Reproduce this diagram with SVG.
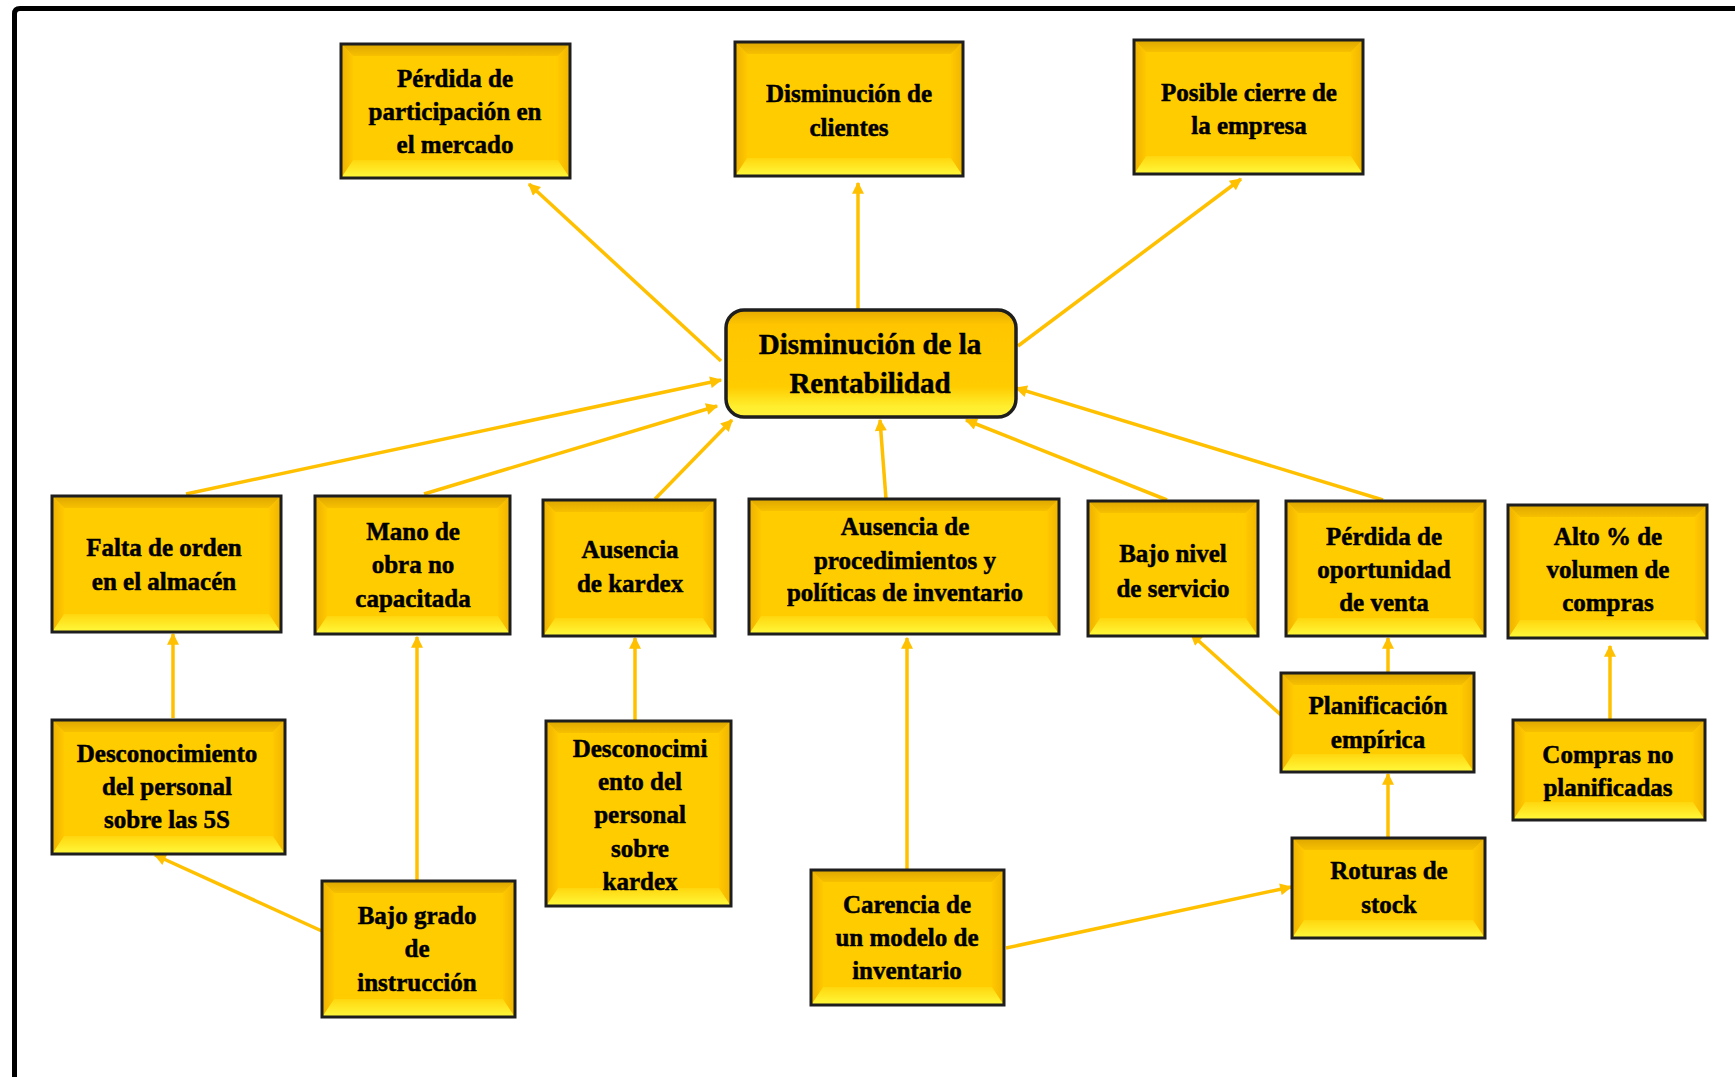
<svg xmlns="http://www.w3.org/2000/svg" width="1735" height="1077" viewBox="0 0 1735 1077">
<defs>
<linearGradient id="gT" x1="0" y1="0" x2="0" y2="1"><stop offset="0" stop-color="#DDA600"/><stop offset="1" stop-color="#F7C000"/></linearGradient>
<linearGradient id="gB" x1="0" y1="0" x2="0" y2="1"><stop offset="0" stop-color="#FFD60E"/><stop offset="1" stop-color="#FFFA3C"/></linearGradient>
<linearGradient id="gL" x1="0" y1="0" x2="1" y2="0"><stop offset="0" stop-color="#EDB000"/><stop offset="1" stop-color="#FFC800"/></linearGradient>
<linearGradient id="gR" x1="0" y1="0" x2="1" y2="0"><stop offset="0" stop-color="#FFC800"/><stop offset="1" stop-color="#F0B400"/></linearGradient>
<linearGradient id="gC" x1="0" y1="0" x2="0" y2="1"><stop offset="0" stop-color="#E6AA00"/><stop offset="0.14" stop-color="#FFC600"/><stop offset="0.72" stop-color="#FFCC00"/><stop offset="0.9" stop-color="#FFEE2E"/><stop offset="1" stop-color="#FFF23C"/></linearGradient>
<marker id="ar" viewBox="0 0 10 10" refX="9" refY="5" markerWidth="14" markerHeight="12" markerUnits="userSpaceOnUse" orient="auto"><path d="M0 0L10 5L0 10z" fill="#FFC000"/></marker>
</defs>
<style>
.base{fill:#FFCC00}
.t{fill:url(#gT)}
.b{fill:url(#gB)}
.l{fill:url(#gL)}
.r{fill:url(#gR)}
.bd{fill:none;stroke:#1E1E1E;stroke-width:3}
text{stroke:#000;stroke-width:0.5}
.big{font-size:29px}
.cn line{stroke:#FFC000;stroke-width:3.5;marker-end:url(#ar)}
</style>
<rect width="1735" height="1077" fill="#FFFFFF"/>
<path d="M14.5 1080V14Q14.5 8.5 20 8.5H1740" fill="none" stroke="#000" stroke-width="5"/>

<g class="cn" id="connectors">
<line x1="721" y1="361" x2="529" y2="184"/>
<line x1="858" y1="310" x2="858" y2="183"/>
<line x1="1018" y1="346" x2="1241" y2="179"/>
<line x1="186" y1="494" x2="721" y2="380"/>
<line x1="424" y1="494" x2="717" y2="406"/>
<line x1="655" y1="499" x2="732" y2="420"/>
<line x1="886" y1="499" x2="880" y2="420"/>
<line x1="1167" y1="500" x2="966" y2="420"/>
<line x1="1383" y1="500" x2="1016" y2="388"/>
<line x1="173" y1="718" x2="173" y2="634"/>
<line x1="417" y1="880" x2="417" y2="637"/>
<line x1="635" y1="721" x2="635" y2="638"/>
<line x1="907" y1="869" x2="907" y2="638"/>
<line x1="1292" y1="725" x2="1191" y2="634"/>
<line x1="1388" y1="672" x2="1388" y2="638"/>
<line x1="1388" y1="837" x2="1388" y2="774"/>
<line x1="1610" y1="719" x2="1610" y2="646"/>
<line x1="324" y1="932" x2="155" y2="855"/>
<line x1="1006" y1="948" x2="1291" y2="887"/>
</g>

<g font-family="Liberation Serif, DejaVu Serif, serif" font-weight="bold" font-size="25" text-anchor="middle" fill="#000">
<g id="n1">
<rect class="base" x="341" y="44" width="229" height="134"/>
<path class="t" d="M341 44h229l-12 12h-205z"/><path class="b" d="M341 178h229l-12-18h-205z"/><path class="l" d="M341 44l12 12v104l-12 18z"/><path class="r" d="M570 44l-12 12v104l12 18z"/>
<rect class="bd" x="341" y="44" width="229" height="134"/>
<text x="455" y="87">Pérdida de</text><text x="455" y="120">participación en</text><text x="455" y="153">el mercado</text>
</g>
<g id="n2">
<rect class="base" x="735" y="42" width="228" height="134"/>
<path class="t" d="M735 42h228l-12 12h-204z"/><path class="b" d="M735 176h228l-12-18h-204z"/><path class="l" d="M735 42l12 12v104l-12 18z"/><path class="r" d="M963 42l-12 12v104l12 18z"/>
<rect class="bd" x="735" y="42" width="228" height="134"/>
<text x="849" y="102">Disminución de</text><text x="849" y="136">clientes</text>
</g>
<g id="n3">
<rect class="base" x="1134" y="40" width="229" height="134"/>
<path class="t" d="M1134 40h229l-12 12h-205z"/><path class="b" d="M1134 174h229l-12-18h-205z"/><path class="l" d="M1134 40l12 12v104l-12 18z"/><path class="r" d="M1363 40l-12 12v104l12 18z"/>
<rect class="bd" x="1134" y="40" width="229" height="134"/>
<text x="1249" y="101">Posible cierre de</text><text x="1249" y="134">la empresa</text>
</g>
<g id="n4">
<rect x="726" y="310" width="290" height="107" rx="18" fill="url(#gC)" stroke="#1E1E1E" stroke-width="3.5"/>
<text class="big" x="870" y="354">Disminución de la</text><text class="big" x="870" y="393">Rentabilidad</text>
</g>
<g id="n5">
<rect class="base" x="52" y="496" width="229" height="136"/>
<path class="t" d="M52 496h229l-12 12h-205z"/><path class="b" d="M52 632h229l-12-18h-205z"/><path class="l" d="M52 496l12 12v106l-12 18z"/><path class="r" d="M281 496l-12 12v106l12 18z"/>
<rect class="bd" x="52" y="496" width="229" height="136"/>
<text x="164" y="556">Falta de orden</text><text x="164" y="590">en el almacén</text>
</g>
<g id="n6">
<rect class="base" x="315" y="496" width="195" height="138"/>
<path class="t" d="M315 496h195l-12 12h-171z"/><path class="b" d="M315 634h195l-12-18h-171z"/><path class="l" d="M315 496l12 12v108l-12 18z"/><path class="r" d="M510 496l-12 12v108l12 18z"/>
<rect class="bd" x="315" y="496" width="195" height="138"/>
<text x="413" y="540">Mano de</text><text x="413" y="573">obra no</text><text x="413" y="607">capacitada</text>
</g>
<g id="n7">
<rect class="base" x="543" y="500" width="172" height="136"/>
<path class="t" d="M543 500h172l-12 12h-148z"/><path class="b" d="M543 636h172l-12-18h-148z"/><path class="l" d="M543 500l12 12v106l-12 18z"/><path class="r" d="M715 500l-12 12v106l12 18z"/>
<rect class="bd" x="543" y="500" width="172" height="136"/>
<text x="630" y="558">Ausencia</text><text x="630" y="592">de kardex</text>
</g>
<g id="n8">
<rect class="base" x="749" y="499" width="310" height="135"/>
<path class="t" d="M749 499h310l-12 12h-286z"/><path class="b" d="M749 634h310l-12-18h-286z"/><path class="l" d="M749 499l12 12v105l-12 18z"/><path class="r" d="M1059 499l-12 12v105l12 18z"/>
<rect class="bd" x="749" y="499" width="310" height="135"/>
<text x="905" y="535">Ausencia de</text><text x="905" y="569">procedimientos y</text><text x="905" y="601">políticas de inventario</text>
</g>
<g id="n9">
<rect class="base" x="1088" y="501" width="170" height="135"/>
<path class="t" d="M1088 501h170l-12 12h-146z"/><path class="b" d="M1088 636h170l-12-18h-146z"/><path class="l" d="M1088 501l12 12v105l-12 18z"/><path class="r" d="M1258 501l-12 12v105l12 18z"/>
<rect class="bd" x="1088" y="501" width="170" height="135"/>
<text x="1173" y="562">Bajo nivel</text><text x="1173" y="597">de servicio</text>
</g>
<g id="n10">
<rect class="base" x="1286" y="501" width="199" height="135"/>
<path class="t" d="M1286 501h199l-12 12h-175z"/><path class="b" d="M1286 636h199l-12-18h-175z"/><path class="l" d="M1286 501l12 12v105l-12 18z"/><path class="r" d="M1485 501l-12 12v105l12 18z"/>
<rect class="bd" x="1286" y="501" width="199" height="135"/>
<text x="1384" y="545">Pérdida de</text><text x="1384" y="578">oportunidad</text><text x="1384" y="611">de venta</text>
</g>
<g id="n11">
<rect class="base" x="1508" y="505" width="199" height="133"/>
<path class="t" d="M1508 505h199l-12 12h-175z"/><path class="b" d="M1508 638h199l-12-18h-175z"/><path class="l" d="M1508 505l12 12v103l-12 18z"/><path class="r" d="M1707 505l-12 12v103l12 18z"/>
<rect class="bd" x="1508" y="505" width="199" height="133"/>
<text x="1608" y="545">Alto % de</text><text x="1608" y="578">volumen de</text><text x="1608" y="611">compras</text>
</g>
<g id="n12">
<rect class="base" x="52" y="720" width="233" height="134"/>
<path class="t" d="M52 720h233l-12 12h-209z"/><path class="b" d="M52 854h233l-12-18h-209z"/><path class="l" d="M52 720l12 12v104l-12 18z"/><path class="r" d="M285 720l-12 12v104l12 18z"/>
<rect class="bd" x="52" y="720" width="233" height="134"/>
<text x="167" y="762">Desconocimiento</text><text x="167" y="795">del personal</text><text x="167" y="828">sobre las 5S</text>
</g>
<g id="n13">
<rect class="base" x="322" y="881" width="193" height="136"/>
<path class="t" d="M322 881h193l-12 12h-169z"/><path class="b" d="M322 1017h193l-12-18h-169z"/><path class="l" d="M322 881l12 12v106l-12 18z"/><path class="r" d="M515 881l-12 12v106l12 18z"/>
<rect class="bd" x="322" y="881" width="193" height="136"/>
<text x="417" y="924">Bajo grado</text><text x="417" y="957">de</text><text x="417" y="991">instrucción</text>
</g>
<g id="n14">
<rect class="base" x="546" y="721" width="185" height="185"/>
<path class="t" d="M546 721h185l-12 12h-161z"/><path class="b" d="M546 906h185l-12-18h-161z"/><path class="l" d="M546 721l12 12v155l-12 18z"/><path class="r" d="M731 721l-12 12v155l12 18z"/>
<rect class="bd" x="546" y="721" width="185" height="185"/>
<text x="640" y="757">Desconocimi</text><text x="640" y="790">ento del</text><text x="640" y="823">personal</text><text x="640" y="857">sobre</text><text x="640" y="890">kardex</text>
</g>
<g id="n15">
<rect class="base" x="811" y="870" width="193" height="135"/>
<path class="t" d="M811 870h193l-12 12h-169z"/><path class="b" d="M811 1005h193l-12-18h-169z"/><path class="l" d="M811 870l12 12v105l-12 18z"/><path class="r" d="M1004 870l-12 12v105l12 18z"/>
<rect class="bd" x="811" y="870" width="193" height="135"/>
<text x="907" y="913">Carencia de</text><text x="907" y="946">un modelo de</text><text x="907" y="979">inventario</text>
</g>
<g id="n16">
<rect class="base" x="1281" y="673" width="193" height="99"/>
<path class="t" d="M1281 673h193l-12 12h-169z"/><path class="b" d="M1281 772h193l-12-18h-169z"/><path class="l" d="M1281 673l12 12v69l-12 18z"/><path class="r" d="M1474 673l-12 12v69l12 18z"/>
<rect class="bd" x="1281" y="673" width="193" height="99"/>
<text x="1378" y="714">Planificación</text><text x="1378" y="748">empírica</text>
</g>
<g id="n17">
<rect class="base" x="1292" y="838" width="193" height="100"/>
<path class="t" d="M1292 838h193l-12 12h-169z"/><path class="b" d="M1292 938h193l-12-18h-169z"/><path class="l" d="M1292 838l12 12v70l-12 18z"/><path class="r" d="M1485 838l-12 12v70l12 18z"/>
<rect class="bd" x="1292" y="838" width="193" height="100"/>
<text x="1389" y="879">Roturas de</text><text x="1389" y="913">stock</text>
</g>
<g id="n18">
<rect class="base" x="1513" y="720" width="192" height="100"/>
<path class="t" d="M1513 720h192l-12 12h-168z"/><path class="b" d="M1513 820h192l-12-18h-168z"/><path class="l" d="M1513 720l12 12v70l-12 18z"/><path class="r" d="M1705 720l-12 12v70l12 18z"/>
<rect class="bd" x="1513" y="720" width="192" height="100"/>
<text x="1608" y="763">Compras no</text><text x="1608" y="796">planificadas</text>
</g>
</g>
</svg>
